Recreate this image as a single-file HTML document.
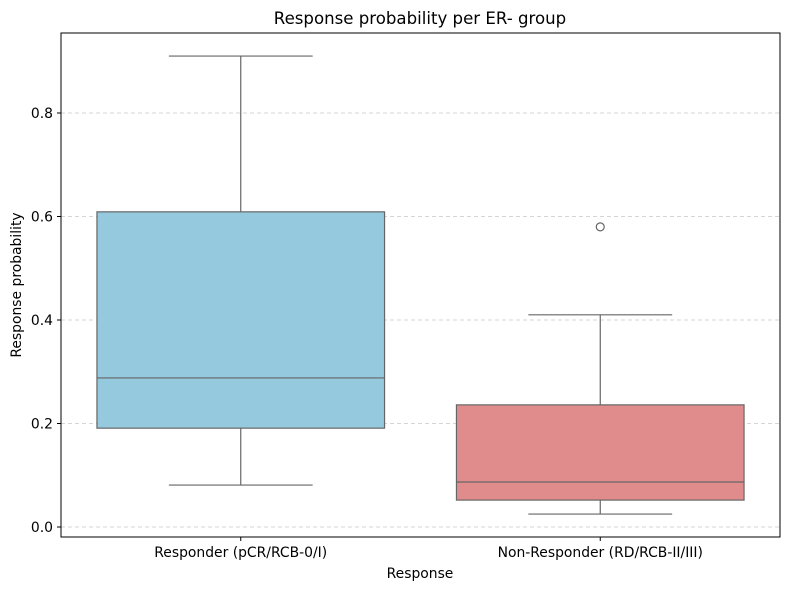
<!DOCTYPE html>
<html><head><meta charset="utf-8"><style>
body{margin:0;background:#fff;}
svg text{font-family:"DejaVu Sans","Liberation Sans",sans-serif;fill:#000;}
</style></head><body>
<svg id="chart" width="790" height="590" xmlns="http://www.w3.org/2000/svg">
<text x="420" y="24" font-size="16.6" text-anchor="middle">Response probability per ER- group</text>
<g id="grid"></g>
<g id="boxes"></g>
<rect x="61" y="33" width="719" height="504" fill="none" stroke="#000" stroke-width="1"/>
<g id="axes"></g>
<text x="420" y="578" font-size="13.9" text-anchor="middle">Response</text>
<text transform="translate(21,285) rotate(-90)" font-size="13.9" text-anchor="middle">Response probability</text>
</svg>
<script>
const categories=["Responder (pCR/RCB-0/I)","Non-Responder (RD/RCB-II/III)"];
const whiskerLow=[0.081,0.025];
const q1=[0.191,0.052];
const median=[0.288,0.087];
const q3=[0.609,0.236];
const whiskerHigh=[0.910,0.410];
const outliers=[[],[0.580]];
const yTicks=[0.0,0.2,0.4,0.6,0.8];
const yTickLabels=["0.0","0.2","0.4","0.6","0.8"];
const colors=["#95c9de","#e08c8c"];

const NS="http://www.w3.org/2000/svg";
const L=61,R=780;
const y=v=>527-517.5*v;
const band=(R-L)/categories.length;
const xc=i=>L+band*(i+0.5);
function mk(tag,attrs,parent){const e=document.createElementNS(NS,tag);for(const k in attrs)e.setAttribute(k,attrs[k]);parent.appendChild(e);return e;}
const grid=document.getElementById('grid'),boxes=document.getElementById('boxes'),axes=document.getElementById('axes');
yTicks.forEach((t,i)=>{
  const g=mk('line',{x1:L,x2:R,y1:y(t),y2:y(t),stroke:'#c8c8c8','stroke-dasharray':'4,3','stroke-width':0.8},grid);
  
  
  const tk=mk('line',{x1:L-4,x2:L,y1:y(t),y2:y(t),stroke:'#000'},axes);
  
  
  const tx=mk('text',{x:L-8,y:y(t)+5,'font-size':13.9,'text-anchor':'end'},axes);
  tx.textContent=yTickLabels[i];
  
  
});
const st='#666666';
categories.forEach((c,i)=>{
  const cx=xc(i),bw=band*0.8,cw=bw/2;
  const g=mk('g',{'stroke-width':1.2},boxes);
  
  
  mk('line',{x1:cx,x2:cx,y1:y(q3[i]),y2:y(whiskerHigh[i]),stroke:st},g);
  mk('line',{x1:cx,x2:cx,y1:y(q1[i]),y2:y(whiskerLow[i]),stroke:st},g);
  mk('line',{x1:cx-cw/2,x2:cx+cw/2,y1:y(whiskerHigh[i]),y2:y(whiskerHigh[i]),stroke:st},g);
  mk('line',{x1:cx-cw/2,x2:cx+cw/2,y1:y(whiskerLow[i]),y2:y(whiskerLow[i]),stroke:st},g);
  const b=mk('rect',{x:cx-bw/2,y:y(q3[i]),width:bw,height:y(q1[i])-y(q3[i]),fill:colors[i],stroke:st},g);
  
  
  mk('line',{x1:cx-bw/2,x2:cx+bw/2,y1:y(median[i]),y2:y(median[i]),stroke:st},g);
  outliers[i].forEach(o=>{
    const p=mk('circle',{cx:cx,cy:y(o),r:4,fill:'none',stroke:st},g);
    
    
  });
  const tk=mk('line',{x1:cx,x2:cx,y1:537,y2:541,stroke:'#000'},axes);
  
  
  const tx=mk('text',{x:cx,y:557,'font-size':13.9,'text-anchor':'middle'},axes);
  tx.textContent=c;
  
  
});
</script>
</body></html>
